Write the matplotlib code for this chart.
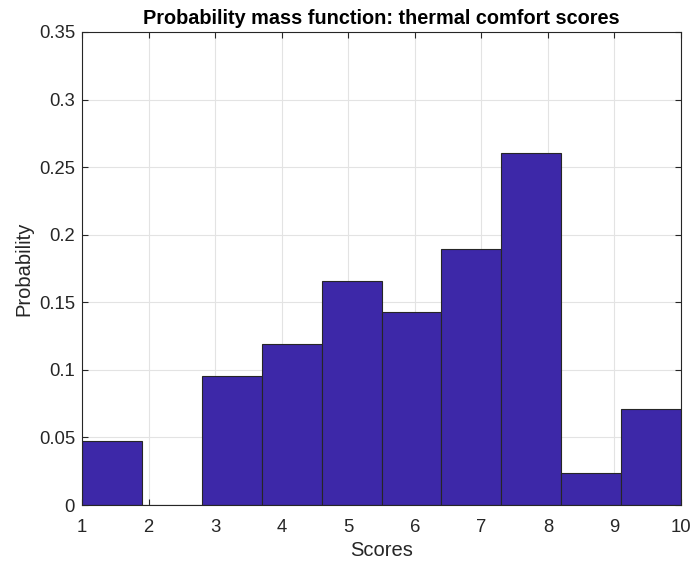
import numpy as np
import matplotlib
matplotlib.use('Agg')
import matplotlib.pyplot as plt

plt.rcParams['font.family'] = ['Liberation Sans', 'DejaVu Sans']

# bin edges of the histogram and probability of each bin
edges = [1.0, 1.9, 2.8, 3.7, 4.6, 5.5, 6.4, 7.3, 8.2, 9.1, 10.0]
probs = [0.0476, 0.0, 0.0952, 0.119, 0.1657, 0.1429, 0.1895, 0.2608, 0.0238, 0.0714]
xticks = [1, 2, 3, 4, 5, 6, 7, 8, 9, 10]
yticks = [0, 0.05, 0.1, 0.15, 0.2, 0.25, 0.3, 0.35]
ytick_labels = ['0', '0.05', '0.1', '0.15', '0.2', '0.25', '0.3', '0.35']

txt = '#262626'
fig = plt.figure(figsize=(6.94, 5.67), dpi=100)
ax = fig.add_axes([82/694, 1-505/567, (681-82)/694, (505-32)/567])

widths = np.diff(edges)
ax.bar(edges[:-1], probs, width=widths, align='edge', color='#3d28a8',
       edgecolor='#262626', linewidth=0.8, zorder=3)

ax.set_xlim(1, 10)
ax.set_ylim(0, 0.35)
ax.set_xticks(xticks)
ax.set_yticks(yticks)
ax.set_yticklabels(ytick_labels)
ax.grid(True, color='#e3e3e3', linewidth=0.8, zorder=0)
ax.tick_params(direction='in', length=4, width=0.8, colors=txt, labelsize=13.3,
               top=True, right=True)
ax.tick_params(axis='x', pad=10)
ax.tick_params(axis='y', pad=5)
for s in ax.spines.values():
    s.set_color(txt)
    s.set_linewidth(0.8)
    s.set_zorder(4)

ax.set_xlabel('Scores', fontsize=14.5, color=txt, labelpad=4)
ax.set_ylabel('Probability', fontsize=14.5, color=txt, labelpad=4)
ax.set_title('Probability mass function: thermal comfort scores', fontsize=14.3,
             fontweight='bold', color='black', pad=6)

fig.savefig('out.png', dpi=100)
